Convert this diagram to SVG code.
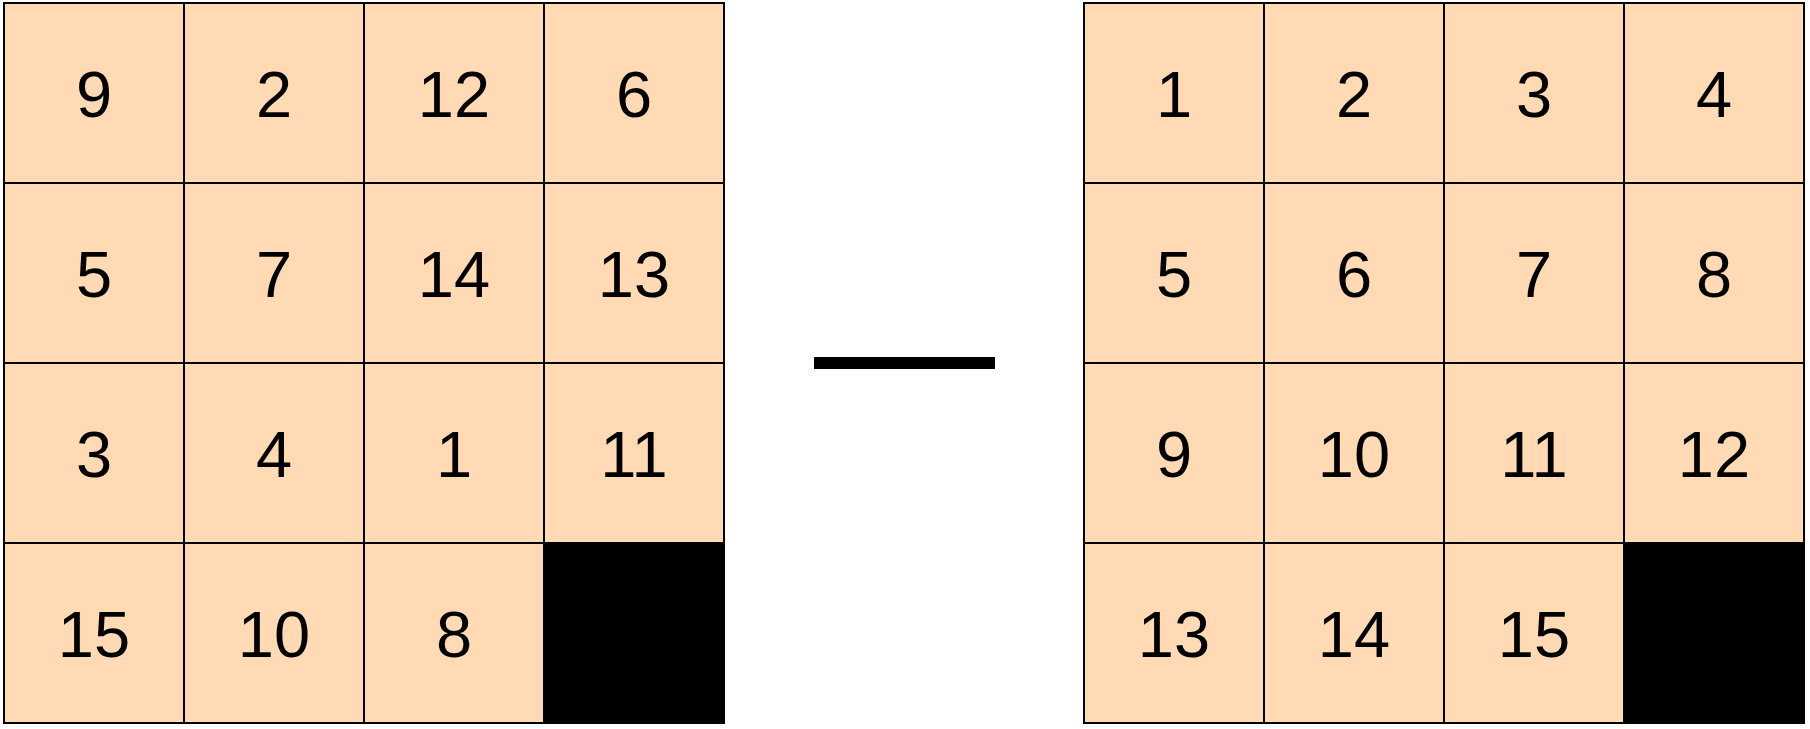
<svg xmlns="http://www.w3.org/2000/svg" width="1810" height="729" viewBox="0 0 1810 729">
<style>
.c{fill:#FFDAB4;stroke:#000;stroke-width:2}
.e{fill:#000;stroke:#000;stroke-width:2}
.t{font-family:"Liberation Sans",Arial,sans-serif;font-size:65px;fill:#000;text-anchor:middle}
</style>
<rect width="1810" height="729" fill="#fff"/>
<g id="left">
<g id="L1"><rect class="c" x="4" y="3" width="180" height="180"/><text class="t" x="94" y="117">9</text></g>
<g id="L2"><rect class="c" x="184" y="3" width="180" height="180"/><text class="t" x="274" y="117">2</text></g>
<g id="L3"><rect class="c" x="364" y="3" width="180" height="180"/><text class="t" x="454" y="117">12</text></g>
<g id="L4"><rect class="c" x="544" y="3" width="180" height="180"/><text class="t" x="634" y="117">6</text></g>
<g id="L5"><rect class="c" x="4" y="183" width="180" height="180"/><text class="t" x="94" y="297">5</text></g>
<g id="L6"><rect class="c" x="184" y="183" width="180" height="180"/><text class="t" x="274" y="297">7</text></g>
<g id="L7"><rect class="c" x="364" y="183" width="180" height="180"/><text class="t" x="454" y="297">14</text></g>
<g id="L8"><rect class="c" x="544" y="183" width="180" height="180"/><text class="t" x="634" y="297">13</text></g>
<g id="L9"><rect class="c" x="4" y="363" width="180" height="180"/><text class="t" x="94" y="477">3</text></g>
<g id="L10"><rect class="c" x="184" y="363" width="180" height="180"/><text class="t" x="274" y="477">4</text></g>
<g id="L11"><rect class="c" x="364" y="363" width="180" height="180"/><text class="t" x="454" y="477">1</text></g>
<g id="L12"><rect class="c" x="544" y="363" width="180" height="180"/><text class="t" x="634" y="477">11</text></g>
<g id="L13"><rect class="c" x="4" y="543" width="180" height="180"/><text class="t" x="94" y="657">15</text></g>
<g id="L14"><rect class="c" x="184" y="543" width="180" height="180"/><text class="t" x="274" y="657">10</text></g>
<g id="L15"><rect class="c" x="364" y="543" width="180" height="180"/><text class="t" x="454" y="657">8</text></g>
<g id="L16"><rect class="e" x="544" y="543" width="180" height="180"/></g>
</g>
<g id="minus"><rect x="814" y="357" width="181" height="12" fill="#000"/></g>
<g id="right">
<g id="R1"><rect class="c" x="1084" y="3" width="180" height="180"/><text class="t" x="1174" y="117">1</text></g>
<g id="R2"><rect class="c" x="1264" y="3" width="180" height="180"/><text class="t" x="1354" y="117">2</text></g>
<g id="R3"><rect class="c" x="1444" y="3" width="180" height="180"/><text class="t" x="1534" y="117">3</text></g>
<g id="R4"><rect class="c" x="1624" y="3" width="180" height="180"/><text class="t" x="1714" y="117">4</text></g>
<g id="R5"><rect class="c" x="1084" y="183" width="180" height="180"/><text class="t" x="1174" y="297">5</text></g>
<g id="R6"><rect class="c" x="1264" y="183" width="180" height="180"/><text class="t" x="1354" y="297">6</text></g>
<g id="R7"><rect class="c" x="1444" y="183" width="180" height="180"/><text class="t" x="1534" y="297">7</text></g>
<g id="R8"><rect class="c" x="1624" y="183" width="180" height="180"/><text class="t" x="1714" y="297">8</text></g>
<g id="R9"><rect class="c" x="1084" y="363" width="180" height="180"/><text class="t" x="1174" y="477">9</text></g>
<g id="R10"><rect class="c" x="1264" y="363" width="180" height="180"/><text class="t" x="1354" y="477">10</text></g>
<g id="R11"><rect class="c" x="1444" y="363" width="180" height="180"/><text class="t" x="1534" y="477">11</text></g>
<g id="R12"><rect class="c" x="1624" y="363" width="180" height="180"/><text class="t" x="1714" y="477">12</text></g>
<g id="R13"><rect class="c" x="1084" y="543" width="180" height="180"/><text class="t" x="1174" y="657">13</text></g>
<g id="R14"><rect class="c" x="1264" y="543" width="180" height="180"/><text class="t" x="1354" y="657">14</text></g>
<g id="R15"><rect class="c" x="1444" y="543" width="180" height="180"/><text class="t" x="1534" y="657">15</text></g>
<g id="R16"><rect class="e" x="1624" y="543" width="180" height="180"/></g>
</g>
</svg>
